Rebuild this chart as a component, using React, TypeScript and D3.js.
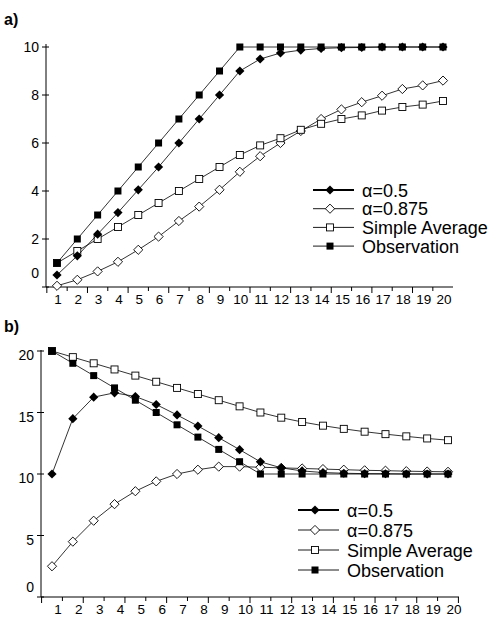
import * as d3 from "d3";

const steps = d3.range(1, 21);

const obsA = [1, 2, 3, 4, 5, 6, 7, 8, 9, 10, 10, 10, 10, 10, 10, 10, 10, 10, 10, 10];
const halfA = [0.5, 1.3, 2.2, 3.1, 4.05, 5, 6, 7, 8, 9, 9.5, 9.75, 9.87, 9.94, 9.97, 9.98, 10, 10, 10, 10];
const slowA = [0.05, 0.3, 0.65, 1.05, 1.55, 2.1, 2.75, 3.35, 4.05, 4.8, 5.45, 6, 6.5, 7, 7.4, 7.7, 7.97, 8.25, 8.4, 8.6];
const avgA = [1, 1.5, 2, 2.5, 3, 3.5, 4, 4.5, 5, 5.5, 5.9, 6.2, 6.55, 6.8, 7, 7.15, 7.35, 7.5, 7.6, 7.75];

const obsB = [20, 19, 18, 17, 16, 15, 14, 13, 12, 11, 10, 10, 10, 10, 10, 10, 10, 10, 10, 10];
const halfB = [10, 14.5, 16.25, 16.6, 16.3, 15.65, 14.8, 13.9, 12.95, 11.98, 10.99, 10.5, 10.25, 10.12, 10.06, 10.03, 10.02, 10, 10, 10];
const slowB = [2.5, 4.5, 6.2, 7.55, 8.6, 9.4, 10, 10.35, 10.6, 10.6, 10.55, 10.5, 10.45, 10.4, 10.35, 10.3, 10.27, 10.23, 10.2, 10.18];
const avgB = [20, 19.5, 19, 18.5, 18, 17.5, 17, 16.5, 16, 15.5, 15, 14.58, 14.23, 13.93, 13.67, 13.44, 13.24, 13.06, 12.89, 12.75];

const ticksA = [0, 2, 4, 6, 8, 10];
const ticksB = [0, 5, 10, 15, 20];
const legendNames = ["α=0.5", "α=0.875", "Simple Average", "Observation"];

type Kind = "fd" | "od" | "os" | "fs";
const kinds: Kind[] = ["fd", "od", "os", "fs"];

function Marker({ kind, x, y }: { kind: Kind; x: number; y: number }) {
  if (kind === "fs") return <rect x={x - 3.5} y={y - 3.5} width={7} height={7} fill="#000" />;
  if (kind === "os") return <rect x={x - 3.5} y={y - 3.5} width={7} height={7} fill="#fff" stroke="#000" strokeWidth={0.9} />;
  const r = 4.6;
  const d = `M${x},${y - r}L${x + r},${y}L${x},${y + r}L${x - r},${y}Z`;
  return kind === "fd" ? <path d={d} fill="#000" /> : <path d={d} fill="#fff" stroke="#000" strokeWidth={0.9} />;
}

function Panel({
  top, label, series, yMax, yTicks, left, right, axisY, yTop, valueTop, px1, px20, labelShift, legendX, legendY, legendGap, labelDy,
}: {
  top: number; label: string; series: number[][]; yMax: number; yTicks: number[];
  left: number; right: number; axisY: number; yTop: number; valueTop: number;
  px1: number; px20: number; labelShift: number; legendX: number; legendY: number; legendGap: number; labelDy: number;
}) {
  const x = d3.scaleLinear().domain([1, 20]).range([px1, px20]);
  const y = d3.scaleLinear().domain([0, yMax]).range([axisY, valueTop]);
  const line = d3.line<number>().x((_, i) => x(steps[i])).y((v) => y(v));
  const order = [1, 2, 0, 3];
  return (
    <g transform={`translate(0,${top})`}>
      <text x={4} y={label === "a)" ? 25 : 22} fontSize={16} fontWeight="bold">{label}</text>
      <line x1={left} x2={left} y1={yTop} y2={axisY} stroke="#000" />
      <line x1={left} x2={right} y1={axisY} y2={axisY} stroke="#000" />
      {yTicks.map((t) => (
        <g key={t}>
          <line x1={left - 4} x2={left + 3} y1={y(t)} y2={y(t)} stroke="#000" />
          <text x={left - 7} y={y(t) + (t === 0 ? -9 : 5) + labelDy} fontSize={14} textAnchor="end">{t}</text>
        </g>
      ))}
      {d3.range(0, 21).map((i) => {
        const tx = x(i + 0.5);
        if (tx > right) return null;
        return <line key={i} x1={tx} x2={tx} y1={axisY} y2={axisY + (i % 2 === 0 ? 6 : 4)} stroke="#000" />;
      })}
      {steps.map((s) => (
        <text key={s} x={x(s) + labelShift} y={axisY + 17} fontSize={13.5} textAnchor="middle">{s}</text>
      ))}
      {order.map((k) => (
        <g key={k}>
          <path d={line(series[k]) ?? ""} fill="none" stroke="#000" strokeWidth={0.8} />
          {series[k].map((v, i) => <Marker key={i} kind={kinds[k]} x={x(steps[i])} y={y(v)} />)}
        </g>
      ))}
      {legendNames.map((n, i) => {
        const ly = legendY + i * legendGap;
        return (
          <g key={n}>
            <line x1={legendX} x2={legendX + 41} y1={ly} y2={ly} stroke="#000" strokeWidth={i === 0 ? 2 : 0.9} />
            <Marker kind={kinds[i]} x={legendX + 17} y={ly} />
            <text x={legendX + 49} y={ly + 6.5} fontSize={18}>{n}</text>
          </g>
        );
      })}
    </g>
  );
}

export default function App() {
  return (
    <svg width={500} height={625} style={{ position: "absolute", left: 0, top: 0, background: "#fff" }}
      fontFamily="'Liberation Sans', Arial, sans-serif">
      <Panel top={0} label="a)" series={[halfA, slowA, avgA, obsA]} yMax={10} yTicks={ticksA}
        left={46} right={453} axisY={287} yTop={44} valueTop={47} px1={57} px20={443} labelShift={1}
        legendX={313} legendY={190} legendGap={18.7} labelDy={0} />
      <Panel top={310} label="b)" series={[halfB, slowB, avgB, obsB]} yMax={20} yTicks={ticksB}
        left={41} right={459} axisY={287} yTop={40} valueTop={41} px1={52} px20={448} labelShift={6}
        legendX={298} legendY={200} legendGap={20} labelDy={4} />
    </svg>
  );
}
